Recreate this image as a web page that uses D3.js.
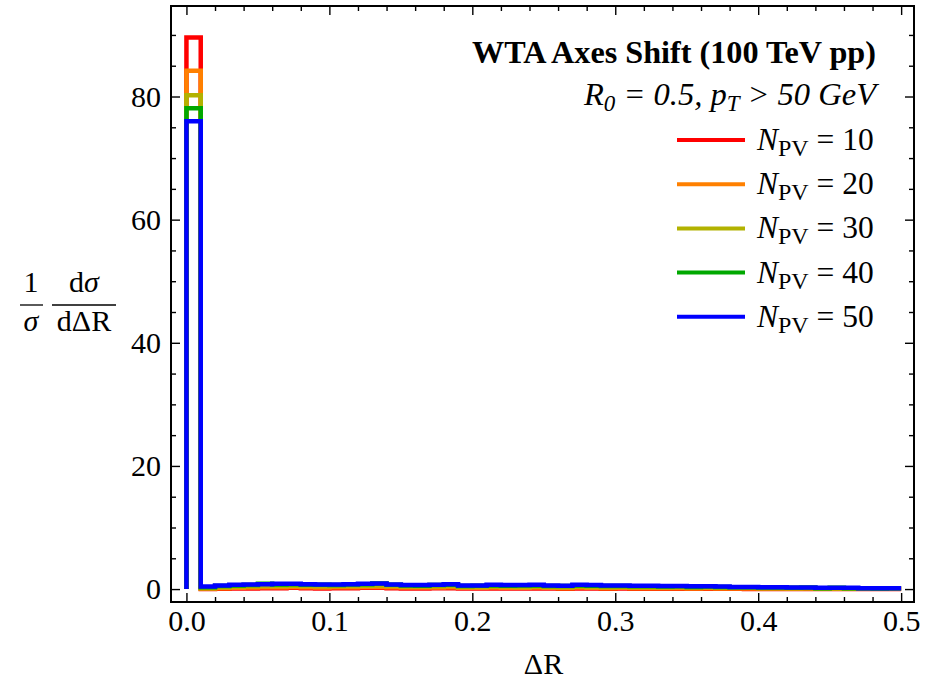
<!DOCTYPE html>
<html>
<head>
<meta charset="utf-8">
<script src="https://cdn.jsdelivr.net/npm/d3@7"></script>
<style>
  body { margin: 0; background: #fff; }
  svg { display: block; }
  text { font-family: "Liberation Serif", "Times New Roman", serif; fill: #000; }
</style>
</head>
<body>
<div id="chart"></div>
<script>
// ---- data ----
const seriesLabels = ["10", "20", "30", "40", "50"];
const seriesColors = ["#ff0000", "#ff8000", "#b2b200", "#00a800", "#0000ff"];
const binWidth = 0.01; // histogram bins start at 0

const nPV10 = [89.6, 0.03, 0.05, 0.1, 0.1, 0.15, 0.15, 0.2, 0.15, 0.1, 0.15, 0.15, 0.2, 0.2, 0.15, 0.1, 0.1, 0.15, 0.15, 0.1,
  0.1, 0.1, 0.1, 0.1, 0.1, 0.1, 0.05, 0.1, 0.1, 0.05, 0.1, 0.05, 0.05, 0.05, 0.05, 0.05, 0.05, 0.05, 0.05, 0.03,
  0.03, 0.03, 0.03, 0.03, 0.02, 0.02, 0.02, 0.02, 0.02, 0.02];
const nPV20 = [84.2, 0.08, 0.15, 0.2, 0.25, 0.3, 0.3, 0.35, 0.3, 0.25, 0.3, 0.3, 0.35, 0.35, 0.3, 0.25, 0.25, 0.25, 0.3, 0.2,
  0.2, 0.25, 0.2, 0.2, 0.25, 0.2, 0.15, 0.25, 0.2, 0.15, 0.2, 0.15, 0.15, 0.15, 0.15, 0.1, 0.15, 0.1, 0.1, 0.1,
  0.1, 0.1, 0.05, 0.1, 0.05, 0.05, 0.05, 0.05, 0.05, 0.05];
const nPV30 = [80.2, 0.15, 0.3, 0.4, 0.45, 0.5, 0.5, 0.55, 0.5, 0.45, 0.5, 0.5, 0.55, 0.6, 0.5, 0.4, 0.4, 0.45, 0.5, 0.35,
  0.35, 0.4, 0.4, 0.35, 0.4, 0.35, 0.3, 0.4, 0.35, 0.3, 0.35, 0.3, 0.3, 0.25, 0.3, 0.25, 0.25, 0.2, 0.2, 0.2,
  0.15, 0.15, 0.15, 0.15, 0.1, 0.1, 0.1, 0.1, 0.1, 0.1];
const nPV40 = [78.1, 0.3, 0.5, 0.6, 0.65, 0.85, 0.75, 0.8, 0.7, 0.7, 0.65, 0.75, 0.8, 0.9, 0.7, 0.6, 0.55, 0.65, 0.7, 0.5,
  0.55, 0.6, 0.55, 0.6, 0.6, 0.5, 0.5, 0.6, 0.55, 0.5, 0.5, 0.45, 0.45, 0.4, 0.45, 0.35, 0.4, 0.35, 0.3, 0.3,
  0.25, 0.25, 0.2, 0.25, 0.15, 0.2, 0.15, 0.15, 0.1, 0.15];
const nPV50 = [76.0, 0.4, 0.6, 0.7, 0.75, 0.8, 0.85, 0.85, 0.8, 0.75, 0.75, 0.8, 0.85, 0.9, 0.75, 0.65, 0.65, 0.7, 0.8, 0.6,
  0.6, 0.7, 0.65, 0.65, 0.7, 0.6, 0.55, 0.7, 0.65, 0.6, 0.6, 0.55, 0.55, 0.5, 0.5, 0.45, 0.45, 0.4, 0.35, 0.35,
  0.3, 0.3, 0.25, 0.25, 0.2, 0.2, 0.2, 0.15, 0.15, 0.15];
const seriesValues = [nPV10, nPV20, nPV30, nPV40, nPV50];

const xMajorTicks = [0, 0.1, 0.2, 0.3, 0.4, 0.5];
const xMinorTicks = [0.02, 0.04, 0.06, 0.08, 0.12, 0.14, 0.16, 0.18, 0.22, 0.24, 0.26, 0.28,
  0.32, 0.34, 0.36, 0.38, 0.42, 0.44, 0.46, 0.48];
const yMajorTicks = [0, 20, 40, 60, 80];
const yMinorTicks = [5, 10, 15, 25, 30, 35, 45, 50, 55, 65, 70, 75, 85, 90];

// ---- layout ----
const W = 938, H = 683;
const plotLeft = 171, plotRight = 914, plotTop = 6, plotBottom = 602;

const svg = d3.select("#chart").append("svg").attr("width", W).attr("height", H);

const x = d3.scaleLinear().domain([-0.0108, 0.509]).range([plotLeft, plotRight]);
const y = d3.scaleLinear().domain([-2.1, 94.7]).range([plotBottom, plotTop]);

svg.append("defs").append("clipPath").attr("id", "plotclip")
  .append("rect").attr("x", plotLeft).attr("y", plotTop)
  .attr("width", plotRight - plotLeft).attr("height", plotBottom - plotTop);

// ---- histograms ----
const line = d3.line()
  .x((d) => x(d[0]))
  .y((d) => y(d[1]))
  .curve(d3.curveStepAfter);

const hist = svg.append("g").attr("clip-path", "url(#plotclip)");
seriesValues.forEach((vals, k) => {
  const pts = [[0, 0]];
  vals.forEach((v, i) => pts.push([i * binWidth, v]));
  pts.push([vals.length * binWidth, vals[vals.length - 1]]);
  hist.append("path")
    .attr("d", line(pts))
    .attr("fill", "none")
    .attr("stroke", seriesColors[k])
    .attr("stroke-width", 4.5)
    .attr("stroke-linejoin", "miter");
});

// ---- axes (ticks pointing inward, mirrored) ----
function styleAxis(g) {
  g.select(".domain").remove();
  g.selectAll(".tick line").attr("stroke", "#000").attr("stroke-width", 1.4);
  g.selectAll("text").attr("font-size", 30).style("font-family", '"Liberation Serif", serif');
}

svg.append("g").attr("transform", `translate(0,${plotBottom})`)
  .call(d3.axisBottom(x).tickValues(xMajorTicks).tickSize(-9).tickPadding(8).tickFormat(d3.format(".1f")))
  .call(styleAxis);
svg.append("g").attr("transform", `translate(0,${plotBottom})`)
  .call(d3.axisBottom(x).tickValues(xMinorTicks).tickSize(-5).tickFormat(""))
  .call(styleAxis);
svg.append("g").attr("transform", `translate(0,${plotTop})`)
  .call(d3.axisTop(x).tickValues(xMajorTicks).tickSize(-9).tickFormat(""))
  .call(styleAxis);
svg.append("g").attr("transform", `translate(0,${plotTop})`)
  .call(d3.axisTop(x).tickValues(xMinorTicks).tickSize(-5).tickFormat(""))
  .call(styleAxis);

svg.append("g").attr("transform", `translate(${plotLeft},0)`)
  .call(d3.axisLeft(y).tickValues(yMajorTicks).tickSize(-9).tickPadding(10))
  .call(styleAxis);
svg.append("g").attr("transform", `translate(${plotLeft},0)`)
  .call(d3.axisLeft(y).tickValues(yMinorTicks).tickSize(-5).tickFormat(""))
  .call(styleAxis);
svg.append("g").attr("transform", `translate(${plotRight},0)`)
  .call(d3.axisRight(y).tickValues(yMajorTicks).tickSize(-9).tickFormat(""))
  .call(styleAxis);
svg.append("g").attr("transform", `translate(${plotRight},0)`)
  .call(d3.axisRight(y).tickValues(yMinorTicks).tickSize(-5).tickFormat(""))
  .call(styleAxis);

// frame
svg.append("rect")
  .attr("x", plotLeft).attr("y", plotTop)
  .attr("width", plotRight - plotLeft).attr("height", plotBottom - plotTop)
  .attr("fill", "none").attr("stroke", "#000").attr("stroke-width", 2);

// ---- axis labels ----
svg.append("text")
  .attr("x", (plotLeft + plotRight) / 2 + 1).attr("y", 674)
  .attr("text-anchor", "middle").attr("font-size", 30)
  .text("ΔR");

// y label: (1/σ) (dσ/dΔR)
const yl = svg.append("g");
yl.append("text").attr("x", 31).attr("y", 292).attr("text-anchor", "middle").attr("font-size", 30).text("1");
yl.append("line").attr("x1", 20).attr("x2", 43).attr("y1", 305).attr("y2", 305).attr("stroke", "#000").attr("stroke-width", 1.3);
yl.append("text").attr("x", 31).attr("y", 331).attr("text-anchor", "middle").attr("font-size", 30).attr("font-style", "italic").text("σ");
const num = yl.append("text").attr("x", 84).attr("y", 292).attr("text-anchor", "middle").attr("font-size", 30);
num.append("tspan").text("d");
num.append("tspan").attr("font-style", "italic").text("σ");
yl.append("line").attr("x1", 52).attr("x2", 116).attr("y1", 305).attr("y2", 305).attr("stroke", "#000").attr("stroke-width", 1.3);
yl.append("text").attr("x", 84).attr("y", 331).attr("text-anchor", "middle").attr("font-size", 30).text("dΔR");

// ---- title / legend ----
const textRight = 876;
svg.append("text")
  .attr("x", textRight).attr("y", 63)
  .attr("text-anchor", "end").attr("font-size", 32.2).attr("font-weight", "bold")
  .text("WTA Axes Shift (100 TeV pp)");

const sub = svg.append("text")
  .attr("x", textRight).attr("y", 105)
  .attr("text-anchor", "end").attr("font-size", 32.5).attr("font-style", "italic");
sub.append("tspan").text("R");
sub.append("tspan").attr("font-size", 23).attr("dy", 6).text("0");
sub.append("tspan").attr("dy", -6).text(" = 0.5, p");
sub.append("tspan").attr("font-size", 23).attr("dy", 6).text("T");
sub.append("tspan").attr("dy", -6).text(" > 50 GeV");

const legendY0 = 140, legendStep = 44.2;
seriesLabels.forEach((lab, k) => {
  const ly = legendY0 + k * legendStep;
  svg.append("line")
    .attr("x1", 677).attr("x2", 745).attr("y1", ly).attr("y2", ly)
    .attr("stroke", seriesColors[k]).attr("stroke-width", 4);
  const t = svg.append("text").attr("x", 757).attr("y", ly + 10).attr("font-size", 31.5);
  t.append("tspan").attr("font-style", "italic").text("N");
  t.append("tspan").attr("font-size", 24).attr("dy", 6).text("PV");
  t.append("tspan").attr("dy", -6).text(" = " + lab);
});
</script>
</body>
</html>
